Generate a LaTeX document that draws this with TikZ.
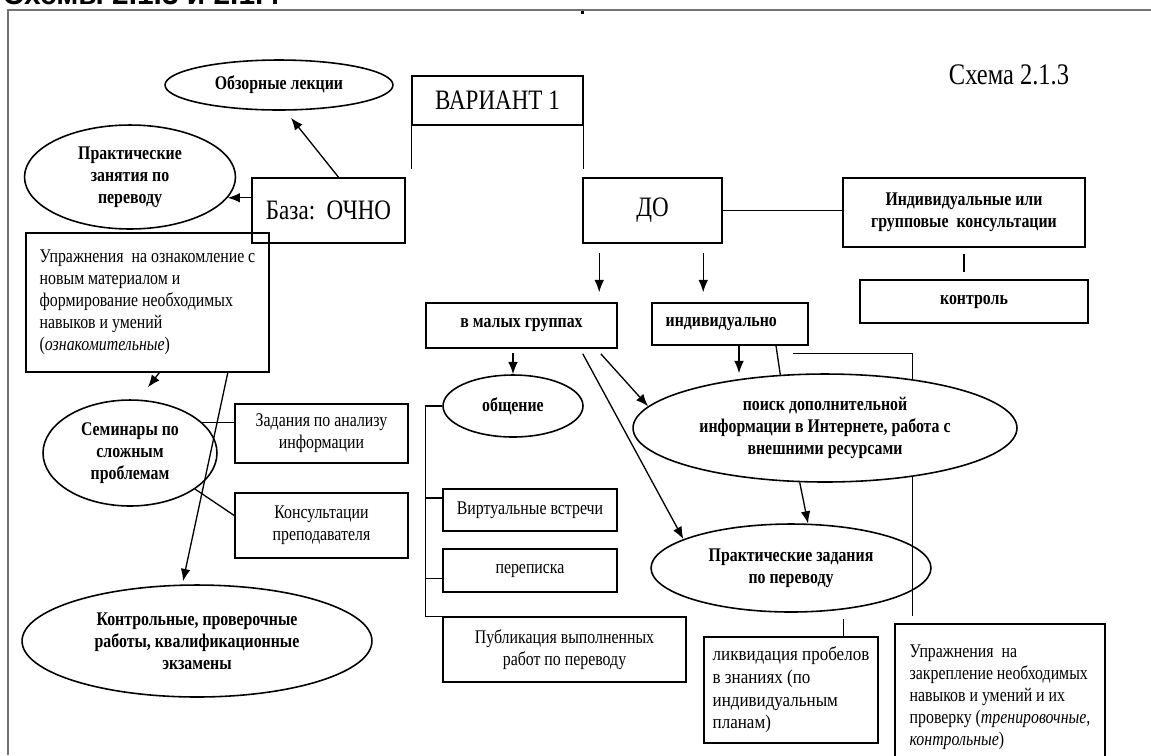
\documentclass[tikz,border=0pt]{standalone}
\usepackage{fontspec}
\setmainfont{Liberation Serif}[FakeStretch=0.82]
\newfontfamily\capsans{Liberation Sans}
\newfontfamily\wideserif{Liberation Serif}[FakeStretch=0.88]
\usetikzlibrary{
	arrows.meta,
	calc,
	backgrounds,
	positioning,
	shapes.geometric
}

\begin{document}
\begin{tikzpicture}[x=0.02cm, y=-0.02cm, line width=0.75pt,
	every node/.style={font=\fontsize{11}{12.5}\selectfont},
	box/.style={draw, line width=0.9pt, inner sep=0pt, align=center},
	oval/.style={draw, ellipse, line width=0.9pt, inner sep=0pt, align=center, fill=white,
		font=\fontsize{11}{12.5}\selectfont\bfseries},
	bftxt/.style={font=\fontsize{11}{12.5}\selectfont\bfseries},
	bigtxt/.style={font=\fontsize{16}{19}\selectfont},
	widetxt/.style={font=\fontsize{11}{12.9}\selectfont\wideserif},
	arr/.style={-{Latex[length=7pt,width=5.5pt]}},
	frame/.style={draw=black!55, line width=0.6pt}
	]
	\useasboundingbox (0,0) rectangle (1151,755);
	
	% 页眉和边框
	\node[anchor=base west, inner sep=0pt, font=\fontsize{17}{20}\selectfont\capsans\bfseries] (head) at (2,4) {Схемы 2.1.3 и 2.1.4};
	\draw[frame] (8,755) -- (8,10) -- (1151,10);
	\fill (581,11) rectangle (584,14);
	\node[font=\fontsize{17}{20}\selectfont] (title) at (1009,75) {Схема 2.1.3};
	
	% 上层
	\node[oval, minimum width=4.56cm, minimum height=1cm] (obzor) at (279,85) {Обзорные лекции};
	\node[box, bigtxt, minimum width=3.42cm, minimum height=0.98cm] (variant) at (497.5,100.5) {ВАРИАНТ 1};
	\node[oval, minimum width=4.22cm, minimum height=2.08cm] (zanyat) at (130,177) {Практические\\занятия по\\переводу};
	\node[box, bigtxt, minimum width=3.06cm, minimum height=1.3cm] (baza) at (328.5,210.5) {База:\ \ ОЧНО};
	\node[box, bigtxt, minimum width=2.78cm, minimum height=1.3cm] (do) at (652.5,210.5) {ДО};
	\node[box, bftxt, minimum width=4.84cm, minimum height=1.38cm] (konsult) at (964,212.5) {Индивидуальные или\\групповые\ \ консультации};
	\node[box, bftxt, minimum width=4.56cm, minimum height=0.86cm] (kontrol) at (974,301.5) {контроль};
	
	% 左列
	\node[box, align=left, minimum width=4.86cm, minimum height=2.78cm] (uprozn) at (147.5,302.5)
		{Упражнения\ \ на ознакомление с\\новым материалом и\\формирование необходимых\\навыков и умений\\(\textit{ознакомительные})};
	\node[oval, minimum width=3.48cm, minimum height=2.12cm] (sem) at (130,453) {Семинары по\\сложным\\проблемам};
	\node[box, minimum width=3.46cm, minimum height=1.18cm] (zadan) at (321.5,433.5) {Задания по анализу\\информации};
	\node[box, minimum width=3.46cm, minimum height=1.3cm] (konsp) at (321.5,525.5) {Консультации\\преподавателя};
	\node[oval, minimum width=7cm, minimum height=2.24cm] (kontr) at (197,641) {Контрольные, проверочные\\работы, квалификационные\\экзамены};
	
	% 中间
	\node[box, bftxt, minimum width=3.82cm, minimum height=0.9cm] (gruppy) at (521.5,325.5) {в малых группах};
	\node[box, bftxt, minimum width=3.12cm, minimum height=0.84cm] (indiv) at (730,324) {индивидуально\hspace*{0.35cm}};
	\node[oval, minimum width=2.8cm, minimum height=1.24cm] (obsch) at (513,406) {общение};
	\node[box, minimum width=3.48cm, minimum height=0.84cm] (virt) at (530,510) {Виртуальные встречи};
	\node[box, minimum width=3.48cm, minimum height=0.86cm] (perep) at (530,570.5) {переписка};
	\node[box, minimum width=4.86cm, minimum height=1.3cm] (publ) at (564.5,649.5) {Публикация выполненных\\работ по переводу};
	
	% 右侧
	\node[oval, minimum width=7.68cm, minimum height=2.16cm] (poisk) at (825,428) {поиск дополнительной\\информации в Интернете, работа с\\внешними ресурсами};
	\node[oval, fill=none, minimum width=5.6cm, minimum height=1.76cm] (prakt) at (791,568) {Практические задания\\по переводу};
	\node[box, widetxt, align=left, minimum width=3.48cm, minimum height=2.12cm] (likv) at (791,690) {ликвидация пробелов\\в знаниях (по\\индивидуальным\\планам)};
	\node[box, align=left, minimum width=4.2cm, minimum height=2.92cm] (uprzak) at (1000,697)
		{Упражнения\ \ на\\закрепление необходимых\\навыков и умений и их\\проверку (\textit{тренировочные,}\\\textit{контрольные})};
	
	% ВАРИАНТ 1 的分支
	\draw[shorten >=0.16cm] (variant.south west) -- (variant.south west |- baza.north);
	\draw[shorten >=0.16cm] (variant.south east) -- (variant.south east |- do.north);
	
	% 面授
	\draw[arr] ($(baza.north)+(10,0)$) -- ($(obzor.south)+(12,7)$);
	\draw[arr] (baza.west |- zanyat.-12) -- (zanyat.-12);
	\draw[arr] ($(uprozn.south west)+(134,0)$) -- ($(sem.north)+(18,-12)$);
	\draw[arr] ($(uprozn.south east)+(-42,0)$) -- ($(kontr.north)+(-14,-3)$);
	\draw (sem.23) -- (sem.23 -| zadan.west);
	\draw (sem.-29) -- ($(konsp.west)+(0,-10)$);
	
	% 远程
	\draw (do.east) -- (do.east -| konsult.west);
	\draw[shorten <=0.12cm, shorten >=0.14cm] (konsult.south) -- (konsult.south |- kontrol.north);
	\foreach \dx in {17,121}{
		\coordinate (d\dx) at ($(do.south west)+(\dx,0)$);
		\draw[arr, shorten <=0.18cm, shorten >=0.2cm] (d\dx) -- (d\dx |- gruppy.north);
	}
	
	% 小组
	\coordinate (g1) at (obsch.north |- gruppy.south);
	\draw[arr, shorten <=0.08cm] (g1) -- (obsch.north);
	\draw[arr] ($(gruppy.south east)+(-17,5)$) -- (poisk.173);
	\draw[arr] ($(gruppy.south east)+(-35,5)$) -- (prakt.165);
	\coordinate (trunk) at (gruppy.west |- obsch.west);
	\draw (obsch.west) -- (trunk) -- (trunk |- publ.north west) -- (publ.north west);
	\coordinate (v1) at ($(virt.west)+(0,-12)$);
	\draw (v1) -- (v1 -| trunk);
	\coordinate (p1) at ($(perep.west)+(0,8)$);
	\draw (p1) -- (p1 -| trunk);
	
	% 个人
	\coordinate (i1) at ($(indiv.south)+(9,0)$);
	\draw[arr] (i1) -- (i1 |- poisk.north);
	\draw ($(indiv.south)+(46,0)$) -- (poisk.130);
	\begin{scope}[on background layer]
		\draw ($(indiv.south east)+(-16,8)$) -| ($(uprzak.north west)+(18,-7)$);
	\end{scope}
	\draw[arr] (poisk.-115) -- (prakt.69);
	\coordinate (l1) at ($(likv.north east)+(-35,0)$);
	\draw[shorten >=0.12cm] (l1) -- (l1 |- prakt.south);
\end{tikzpicture}
\end{document}
